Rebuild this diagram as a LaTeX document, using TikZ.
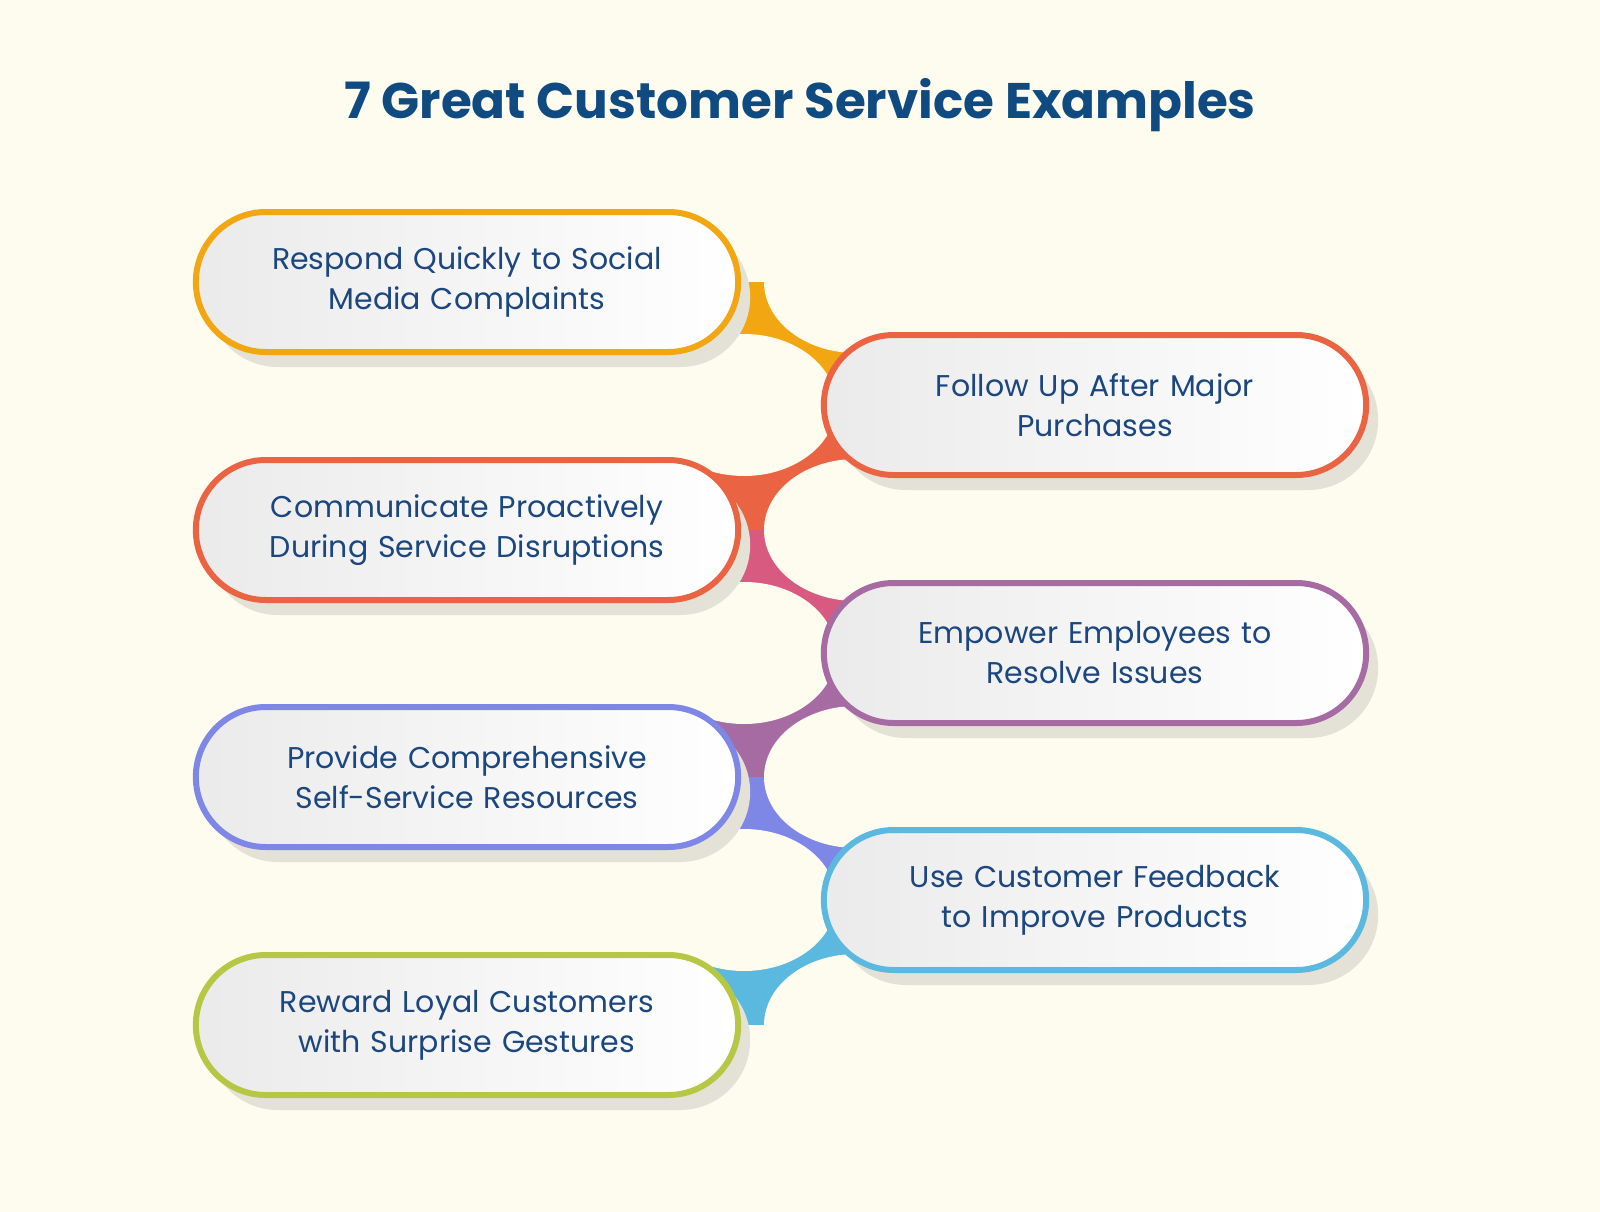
\documentclass[tikz,border=0pt]{standalone}
\usepackage{fontspec}
\setmainfont{Poppins}
\usetikzlibrary{shapes.misc,shadows}
\definecolor{bgc}{HTML}{FEFCEF}
\definecolor{titlec}{HTML}{0F4A80}
\definecolor{textc}{HTML}{1B467E}
\definecolor{shadowc}{HTML}{E4E1D6}
\definecolor{cOrange}{HTML}{F2A712}
\definecolor{cRed}{HTML}{EA6443}
\definecolor{cPink}{HTML}{D95A80}
\definecolor{cPurple}{HTML}{A66BA3}
\definecolor{cViolet}{HTML}{7E86E6}
\definecolor{cSky}{HTML}{5BB8DE}
\definecolor{cLime}{HTML}{B6C744}
\begin{document}
\begin{tikzpicture}[x=1pt,y=-1pt,
    pill/.style={shape=rounded rectangle, minimum width=549pt, minimum height=140pt,
      draw=#1, line width=6pt, left color=gray!16, right color=white,
      text=textc, font=\fontsize{30}{40}\selectfont, text width=470pt, align=center,
      drop shadow={shadow xshift=12pt, shadow yshift=-15pt, fill=shadowc, opacity=1}},
    hole/.style={fill=bgc, x radius=92pt, y radius=71pt}]
  \fill[bgc] (0,0) rectangle (1600,1212);
  \useasboundingbox (0,0) rectangle (1600,1212);

  \node[font=\bfseries\fontsize{50}{60}\selectfont, text=titlec] (title) at (800,105) {7 Great Customer Service Examples};

  % spine between the pills
  \fill[cOrange] (700,282) rectangle (900,405);
  \fill[cRed] (700,405) rectangle (900,530);
  \fill[cPink] (700,530) rectangle (900,653);
  \fill[cPurple] (700,653) rectangle (900,777);
  \fill[cViolet] (700,777) rectangle (900,900);
  \fill[cSky] (700,900) rectangle (900,1025);
  \foreach \y in {282,530,777,1025} \fill[hole] (856,\y) ellipse [];
  \foreach \y in {405,653,900} \fill[hole] (744,\y) ellipse [];

  % pills
  \node[pill=cOrange] (respond) at (467,282) {Respond Quickly to Social\\Media Complaints};
  \node[pill=cRed] (follow) at (1095,405) {Follow Up After Major\\Purchases};
  \node[pill=cRed] (communicate) at (467,530) {Communicate Proactively\\During Service Disruptions};
  \node[pill=cPurple] (empower) at (1095,653) {Empower Employees to\\Resolve Issues};
  \node[pill=cViolet] (provide) at (467,777) {Provide Comprehensive\\Self-Service Resources};
  \node[pill=cSky] (feedback) at (1095,900) {Use Customer Feedback\\to Improve Products};
  \node[pill=cLime] (reward) at (467,1025) {Reward Loyal Customers\\with Surprise Gestures};
\end{tikzpicture}
\end{document}
